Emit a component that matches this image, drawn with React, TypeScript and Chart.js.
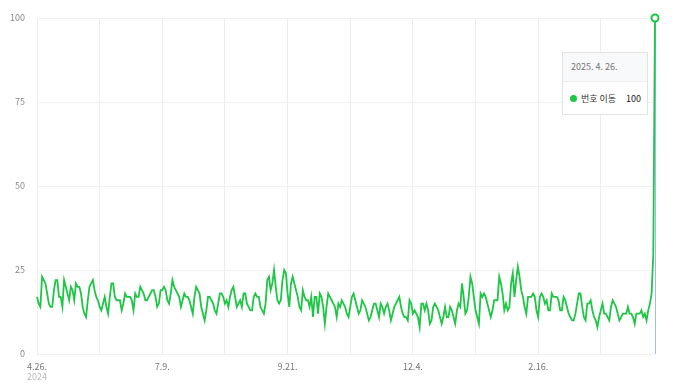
import React, { useEffect, useRef } from "react";
import { Chart, registerables } from "chart.js";

Chart.register(...registerables);

const startDate = "2024-04-26";
const seriesName = "번호 이동";
const yTicks = [0, 25, 50, 75, 100];
const tickLabels = ["4.26.", "7.9.", "9.21.", "12.4.", "2.16."];
const firstYear = "2024";
const tooltipDate = "2025. 4. 26.";
const tooltipValue = 100;

const valuesA = [
  17, 15, 14, 23, 22, 21, 18, 15, 14, 14,
  19, 22, 22, 17, 17, 14, 22, 20, 18, 16,
  20, 19, 16, 21, 20, 20, 18, 14, 12, 11,
  16, 20, 21, 22, 19, 17, 16, 14, 13, 15,
  17, 14, 12, 17, 21, 21, 17, 16, 16, 16,
  13, 15, 18, 17, 17, 17, 16, 13, 18, 17,
  17, 20, 19, 18, 16, 16, 17, 18, 19, 19,
  17, 14, 15,
];
const valuesB = [
  19, 19, 20, 19, 16, 15, 18,
  22, 20, 19, 18, 17, 14, 16, 18, 17, 17,
  16, 14, 12, 17, 20, 19, 18, 14, 12, 10,
  13, 17, 17, 16, 15, 13, 12, 15, 18, 18,
  17, 15, 16, 14, 17, 19, 20, 17, 14, 15,
  16, 14, 18, 18, 15, 14, 13, 13, 17, 18,
  17, 17, 14, 13, 12, 15, 22, 23, 19, 21,
  25, 20, 16, 15, 16, 22, 25,
];
const valuesC = [
  24, 18, 14,
  21, 23, 21, 19, 17, 14, 13, 19, 17, 16,
  16, 14, 17, 11, 17, 17, 12, 18, 17, 14,
  9, 14, 18, 17, 16, 15, 14, 11, 15, 14,
  16, 15, 14, 12, 11, 14, 17, 18, 16, 14,
  12, 13, 16, 15, 14, 12, 10, 11, 13, 15,
  15, 13, 11, 15, 14, 12, 14, 15, 13, 10,
  12, 14, 15, 16, 17, 14, 12, 11, 11, 10,
  16,
];
const valuesD = [
  15, 12, 13, 12, 11, 8, 15, 15, 13,
  15, 13, 9, 10, 14, 15, 14, 13, 11, 9,
  11, 14, 11, 11, 14, 13, 11, 9, 13, 15,
  14, 21, 17, 12, 13, 17, 23, 21, 17, 13,
  11, 9, 18, 17, 18, 17, 15, 13, 11, 13,
  16, 16, 16, 23, 21, 18, 13, 15, 13, 14,
  21, 24, 17, 22, 26, 23, 19, 17, 14, 12,
  17, 17, 17, 18, 17,
];
const valuesE = [
  13, 11, 17, 18, 17,
  15, 16, 13, 13, 18, 17, 17, 17, 16, 13,
  13, 17, 16, 14, 12, 11, 10, 10, 12, 15,
  18, 18, 14, 11, 10, 15, 15, 16, 13, 11,
  10, 8, 11, 13, 15, 12, 12, 11, 10, 14,
  16, 15, 14, 12, 10, 11, 12, 12, 12, 14,
  12, 12, 11, 9, 12, 12, 12, 13, 11, 12,
  10, 13, 15, 18, 30, 100,
];

const values = [...valuesA, ...valuesB, ...valuesC, ...valuesD, ...valuesE];

function buildDates(start: string, n: number): string[] {
  const out: string[] = [];
  const d = new Date(start + "T00:00:00");
  for (let i = 0; i < n; i++) {
    out.push(`${d.getMonth() + 1}.${d.getDate()}.`);
    d.setDate(d.getDate() + 1);
  }
  return out;
}

const categories = buildDates(startDate, values.length);

const GREEN = "#1dc644";
const FONT = "'Noto Sans CJK KR', 'Noto Sans', sans-serif";

export default function App() {
  const ref = useRef<HTMLCanvasElement | null>(null);

  useEffect(() => {
    if (!ref.current) return;
    const last = values.length - 1;
    const extras = {
      id: "extras",
      beforeDatasetsDraw(chart: any) {
        const { ctx, chartArea, scales } = chart;
        const x = scales.x.getPixelForValue(last);
        ctx.save();
        ctx.strokeStyle = "#9dbcf0";
        ctx.lineWidth = 1;
        ctx.beginPath();
        ctx.moveTo(Math.round(x) + 0.5, chartArea.top);
        ctx.lineTo(Math.round(x) + 0.5, chartArea.bottom);
        ctx.stroke();
        ctx.restore();
      },
      afterDraw(chart: any) {
        const { ctx, scales } = chart;
        const x = scales.x.getPixelForValue(0);
        ctx.save();
        ctx.font = `9px ${FONT}`;
        ctx.fillStyle = "#b8b8b8";
        ctx.textAlign = "center";
        ctx.textBaseline = "middle";
        ctx.fillText(firstYear, x, 377);
        ctx.restore();
      },
    };
    const chart = new Chart(ref.current, {
      type: "line",
      data: {
        labels: categories,
        datasets: [
          {
            label: seriesName,
            data: values,
            borderColor: GREEN,
            borderWidth: 1.8,
            tension: 0,
            fill: false,
            clip: false,
            pointRadius: (c: any) => (c.dataIndex === last ? 3.5 : 0),
            pointBackgroundColor: "#ffffff",
            pointBorderColor: GREEN,
            pointBorderWidth: 2,
          },
        ],
      },
      options: {
        responsive: false,
        animation: false,
        layout: { padding: { top: 18, right: 25, left: 0, bottom: 0 } },
        plugins: { legend: { display: false }, tooltip: { enabled: false } },
        scales: {
          x: {
            type: "category",
            offset: false,
            afterFit: (s: any) => {
              s.height = 33;
            },
            border: { display: false },
            grid: {
              drawTicks: false,
              color: (c: any) =>
                c.index % 37 === 0 && c.index < last ? "#ececec" : "rgba(0,0,0,0)",
            },
            ticks: {
              autoSkip: false,
              maxRotation: 0,
              minRotation: 0,
              padding: 7,
              color: "#777",
              font: { family: FONT, size: 9 },
              callback: (_v: any, i: number) =>
                i % 74 === 0 ? tickLabels[i / 74] ?? "" : "",
            },
          },
          y: {
            min: 0,
            max: 100,
            afterFit: (s: any) => {
              s.width = 37;
            },
            afterBuildTicks: (s: any) => {
              s.ticks = yTicks.map((v) => ({ value: v }));
            },
            border: { display: false },
            grid: { drawTicks: false, color: "#f1f1f1" },
            ticks: {
              padding: 12,
              color: "#8a8a8a",
              font: { family: FONT, size: 9 },
            },
          },
        },
      },
      plugins: [extras],
    } as any);
    return () => chart.destroy();
  }, []);

  return (
    <div
      style={{
        position: "fixed",
        left: 0,
        top: 0,
        width: 680,
        height: 387,
        background: "#fff",
      }}
    >
      <canvas ref={ref} width={680} height={387} style={{ width: 680, height: 387 }} />
      <div
        style={{
          position: "absolute",
          left: 562,
          top: 52,
          width: 86,
          height: 63,
          boxSizing: "border-box",
          border: "1px solid #e3e3e3",
          background: "#fff",
          fontFamily: FONT,
          fontSize: 9,
        }}
      >
        <div
          style={{
            height: 28,
            background: "#f8f9fa",
            borderBottom: "1px solid #eeeeee",
            color: "#777",
            lineHeight: "28px",
            paddingLeft: 8,
          }}
        >
          {tooltipDate}
        </div>
        <div
          style={{
            display: "flex",
            alignItems: "center",
            height: 33,
            paddingLeft: 7,
            paddingRight: 6,
            color: "#333",
          }}
        >
          <span
            style={{
              width: 7,
              height: 7,
              borderRadius: "50%",
              background: GREEN,
              display: "inline-block",
              marginRight: 4,
            }}
          />
          <span style={{ flex: 1 }}>{seriesName}</span>
          <span style={{ color: "#222" }}>{tooltipValue}</span>
        </div>
      </div>
    </div>
  );
}
